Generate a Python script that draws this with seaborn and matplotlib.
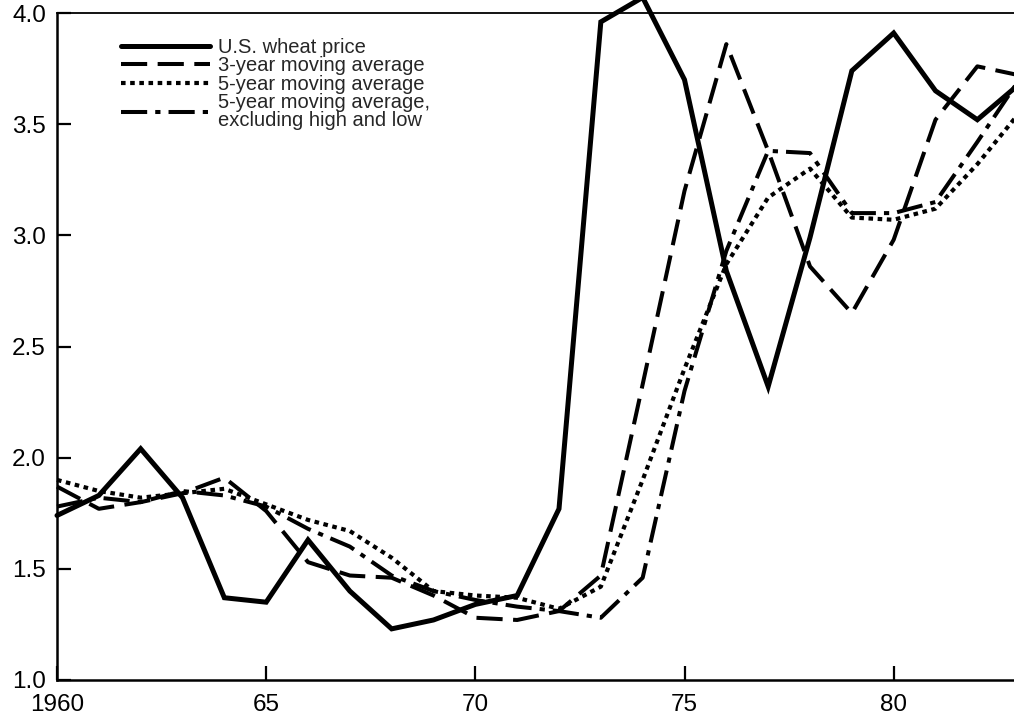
import numpy as np
import pandas as pd
import matplotlib
matplotlib.use('Agg')
import matplotlib.pyplot as plt
import seaborn as sns

# Values (dollars per bushel)
years = list(range(1960, 1984))
wheat_price = [1.74, 1.83, 2.04, 1.82, 1.37, 1.35, 1.63, 1.40, 1.23, 1.27, 1.34, 1.38,
               1.77, 3.96, 4.07, 3.70, 2.84, 2.32, 2.99, 3.74, 3.91, 3.65, 3.52, 3.68]
ma3 = [1.87, 1.77, 1.80, 1.84, 1.91, 1.76, 1.53, 1.47, 1.46, 1.38, 1.28, 1.27,
       1.31, 1.47, 2.33, 3.20, 3.86, 3.38, 2.86, 2.65, 2.98, 3.52, 3.76, 3.72]
ma5 = [1.90, 1.85, 1.82, 1.84, 1.86, 1.79, 1.72, 1.67, 1.55, 1.40, 1.38, 1.37,
       1.32, 1.42, 1.90, 2.40, 2.87, 3.17, 3.30, 3.08, 3.07, 3.12, 3.32, 3.55]
ma5_trim = [1.78, 1.82, 1.80, 1.85, 1.83, 1.78, 1.68, 1.60, 1.47, 1.40, 1.36, 1.33,
            1.31, 1.28, 1.46, 2.30, 2.93, 3.38, 3.37, 3.10, 3.10, 3.15, 3.42, 3.70]

labels = ['U.S. wheat price', '3-year moving average', '5-year moving average',
          '5-year moving average,\nexcluding high and low']
yticks = [1.0, 1.5, 2.0, 2.5, 3.0, 3.5, 4.0]
xticks = [1960, 1965, 1970, 1975, 1980]
xticklabels = ['1960', '65', '70', '75', '80']

sns.set_style('white')
plt.rcParams['font.family'] = ['Liberation Sans', 'DejaVu Sans']

fig = plt.figure(figsize=(10.14, 7.22), dpi=100)
ax = fig.add_axes([57 / 1014, 42 / 722, 1004 / 1014, 667 / 722])

# solid, dashed, dotted, dash-dot
styles = [
    dict(linestyle='-', lw=3.6),
    dict(linestyle=(0, (6.5, 2.6)), lw=2.9),
    dict(linestyle=(0, (1.1, 1.1)), lw=3.0),
    dict(linestyle=(0, (6.5, 2.0, 1.3, 2.0)), lw=2.9),
]
for vals, lab, st in zip([wheat_price, ma3, ma5, ma5_trim], labels, styles):
    sns.lineplot(x=years, y=vals, ax=ax, color='black', label=lab,
                 clip_on=False, solid_joinstyle='miter', dash_capstyle='butt', **st)

ax.set_xlim(1960, 1984)
ax.set_ylim(1.0, 4.0)
ax.set_yticks(yticks)
ax.set_yticklabels([f'{v:.1f}' for v in yticks])
ax.set_xticks(xticks)
ax.set_xticklabels(xticklabels)
ax.tick_params(axis='both', direction='in', length=10, width=1.6, color='black',
               labelsize=17.5, labelcolor='black', bottom=True, left=True)
ax.tick_params(axis='y', pad=8)
ax.tick_params(axis='x', pad=10)
for side in ['left', 'bottom']:
    ax.spines[side].set_linewidth(1.8)
    ax.spines[side].set_color('black')
ax.spines['top'].set_linewidth(1.3)
ax.spines['top'].set_color('black')
ax.spines['right'].set_color('black')

leg = ax.legend(loc='upper left', bbox_to_anchor=(0.064, 0.963), frameon=False,
                fontsize=14.5, handlelength=4.4, handletextpad=0.4, labelspacing=-0.02,
                borderpad=0, borderaxespad=0)
for t in leg.get_texts():
    t.set_linespacing(0.92)

fig.savefig('out.png', dpi=100, facecolor='white')
